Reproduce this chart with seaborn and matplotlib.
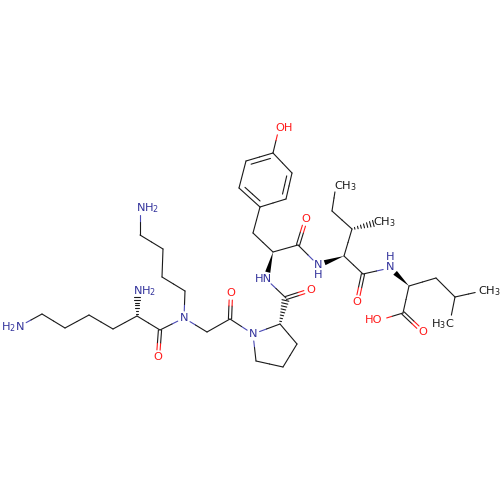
import numpy as np
import pandas as pd
import matplotlib
matplotlib.use("Agg")
import matplotlib.pyplot as plt
import seaborn as sns

# atom positions, in pixels
atoms = {
    "n1": (20, 326), "c1": (42, 314), "c2": (65, 328), "c3": (89, 315), "c4": (113, 329),
    "c5": (137, 316), "c6": (160, 330), "o1": (158, 357), "n2": (137, 292),
    "n3": (184, 318), "c7": (185, 291), "c8": (162, 277), "c9": (163, 249), "c10": (140, 235),
    "n4": (140, 208), "c11": (207, 332), "c12": (230, 319), "o2": (231, 293),
    "n5": (253, 334), "c13": (280, 324), "c14": (297, 344), "c15": (283, 367), "c16": (256, 361),
    "c17": (286, 298), "o3": (311, 290), "n6": (266, 279), "c18": (273, 252), "c19": (253, 233),
    "r1": (260, 207), "r2": (286, 199), "r3": (292, 173), "r4": (273, 153), "r5": (246, 161),
    "r6": (239, 188), "o4": (279, 128), "c20": (298, 245), "o5": (306, 219), "n7": (318, 265),
    "c21": (344, 256), "c22": (352, 229), "m1": (379, 222), "c23": (332, 211), "m2": (336, 185),
    "c24": (363, 274), "o6": (357, 302), "n8": (390, 268), "c25": (409, 286), "c26": (436, 278),
    "c27": (455, 297), "m3": (482, 291), "m4": (450, 322), "c28": (403, 313), "o7": (423, 332),
    "o8": (380, 320),
}

single_bonds = [
    ("n1", "c1"), ("c1", "c2"), ("c2", "c3"), ("c3", "c4"), ("c4", "c5"), ("c5", "c6"),
    ("c6", "n3"), ("n3", "c7"), ("c7", "c8"), ("c8", "c9"), ("c9", "c10"), ("c10", "n4"),
    ("n3", "c11"), ("c11", "c12"), ("c12", "n5"), ("n5", "c13"), ("c13", "c14"), ("c14", "c15"),
    ("c15", "c16"), ("c16", "n5"), ("c17", "n6"), ("c18", "c19"), ("c19", "r1"), ("r2", "r3"),
    ("r1", "r2"), ("r3", "r4"), ("r4", "r5"), ("r5", "r6"), ("r6", "r1"), ("r4", "o4"),
    ("c18", "c20"), ("c20", "n7"), ("c21", "c22"), ("c22", "c23"), ("c23", "m2"), ("c21", "c24"),
    ("c24", "n8"), ("c25", "c26"), ("c26", "c27"), ("c27", "m3"), ("c27", "m4"), ("c25", "c28"),
    ("c28", "o8"),
]
carbonyls = [("c6", "o1"), ("c12", "o2"), ("c17", "o3"), ("c20", "o5"), ("c24", "o6"), ("c28", "o7")]
ring_doubles = [("r4", "r5"), ("r2", "r3"), ("r1", "r6")]
wedges = [("c18", "n6"), ("c21", "n7"), ("c25", "n8")]
hashes = [("c5", "n2"), ("c22", "m1"), ("c13", "c17")]

labels = ["H$_2$N", "O", "NH$_2$", "N", "NH$_2$", "O", "N", "O", "HN", "O", "OH",
          "N\nH", "CH$_3$", "CH$_3$", "O", "H\nN", "CH$_3$", "H$_3$C", "HO", "O"]
label_x = [13, 158, 145, 184, 148, 231, 253, 311, 263, 306, 284, 318, 345, 384, 357, 390, 489, 443, 374, 423]
label_y = [327, 357, 291, 318, 208, 293, 334, 290, 279, 219, 128, 270, 186, 222, 302, 262, 291, 324, 320, 332]

BLUE = "#4a4ab4"
RED = "#ff1a1a"
BLACK = "#1a1a1a"
TEXT_BLUE = "#33339c"
GAP = 7


def label_color(t):
    if "N" in t or t == "H":
        return TEXT_BLUE
    if "O" in t:
        return RED
    return BLACK


def atom_color(name):
    return {"n": BLUE, "o": RED}.get(name[0], BLACK)


def is_labelled(name):
    return name[0] in "nom"


segments = []


def add_seg(p, q, color):
    seg = len(segments)
    segments.append(pd.DataFrame({"x": [p[0], q[0]], "y": [p[1], q[1]], "seg": seg, "color": color}))


def add_bond(a, b, shift=(0, 0), trim_c=0):
    p = np.array(atoms[a], float)
    q = np.array(atoms[b], float)
    u = (q - p) / np.linalg.norm(q - p)
    mid = (p + q) / 2 + np.array(shift)
    start = p + u * (GAP if is_labelled(a) else trim_c) + np.array(shift)
    end = q - u * (GAP if is_labelled(b) else trim_c) + np.array(shift)
    add_seg(start, mid, atom_color(a))
    add_seg(mid, end, atom_color(b))


for a, b in single_bonds:
    add_bond(a, b)

for a, b in carbonyls:
    d = np.array(atoms[b], float) - np.array(atoms[a], float)
    n = np.array([-d[1], d[0]]) / np.linalg.norm(d)
    add_bond(a, b, n * 1.6)
    add_bond(a, b, n * -1.6)

ring_center = np.mean([atoms[r] for r in ("r1", "r2", "r3", "r4", "r5", "r6")], axis=0)
for a, b in ring_doubles:
    pa = np.array(atoms[a], float)
    pb = np.array(atoms[b], float)
    d = pb - pa
    n = np.array([-d[1], d[0]]) / np.linalg.norm(d)
    if np.dot(n, ring_center - (pa + pb) / 2) < 0:
        n = -n
    add_bond(a, b, n * 4.5, trim_c=4)

for a, b in hashes:
    p = np.array(atoms[a], float)
    q = np.array(atoms[b], float)
    d = q - p
    length = np.linalg.norm(d)
    u = d / length
    n = np.array([-u[1], u[0]])
    for t in np.arange(0.1, 1.0, 0.115):
        if t * length > length - GAP + 2 and is_labelled(b):
            break
        c = p + d * t
        w = 0.6 + 3.2 * t
        add_seg(c - n * w, c + n * w, BLACK)

df = pd.concat(segments, ignore_index=True)

sns.set_style("white")
plt.rcParams["font.family"] = ["DejaVu Sans"]
plt.rcParams["mathtext.default"] = "regular"

fig = plt.figure(figsize=(5, 5), dpi=100)
ax = fig.add_axes([0, 0, 1, 1])

sns.lineplot(data=df, x="x", y="y", units="seg", hue="color",
             palette={BLUE: BLUE, RED: RED, BLACK: BLACK},
             estimator=None, sort=False, legend=False, linewidth=0.8, ax=ax)

for a, b in wedges:
    p = np.array(atoms[a], float)
    q = np.array(atoms[b], float)
    d = q - p
    u = d / np.linalg.norm(d)
    n = np.array([-u[1], u[0]])
    tip = q - u * GAP
    ax.fill([p[0], tip[0] + n[0] * 2.6, tip[0] - n[0] * 2.6],
            [p[1], tip[1] + n[1] * 2.6, tip[1] - n[1] * 2.6], color="black", lw=0)

for t, x, y in zip(labels, label_x, label_y):
    ax.text(x, y, t, color=label_color(t), fontsize=8.2, ha="center", va="center", linespacing=0.95)

ax.set_xlim(0, 500)
ax.set_ylim(500, 0)
ax.axis("off")
fig.savefig("out.png", dpi=100, facecolor="white")
